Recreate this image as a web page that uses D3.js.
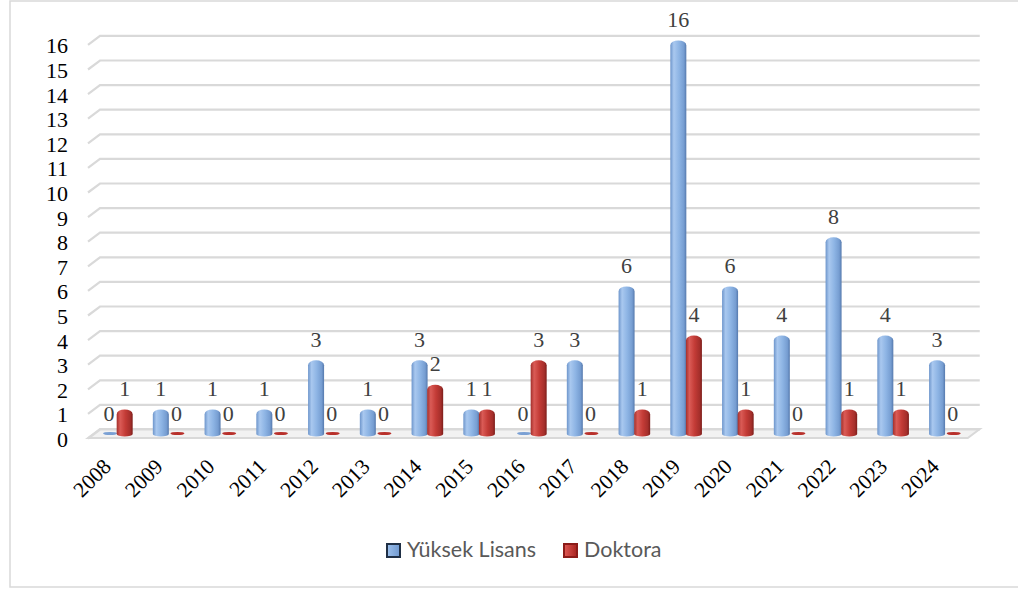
<!DOCTYPE html>
<html>
<head>
<meta charset="utf-8">
<script src="https://cdn.jsdelivr.net/npm/d3@7"></script>
<style>
    body { margin: 0; background: #fff; }
    svg { display: block; }
    .serif { font-family: "Liberation Serif", "Times New Roman", Times, "DejaVu Serif", serif; }
    .sans { font-family: Lato, "Open Sans", sans-serif; }
</style>
</head>
<body>
<div id="container"></div>
<script>
"use strict"

const years = ["2008", "2009", "2010", "2011", "2012", "2013", "2014", "2015", "2016",
    "2017", "2018", "2019", "2020", "2021", "2022", "2023", "2024"];
const yuksekLisans = [0, 1, 1, 1, 3, 1, 3, 1, 0, 3, 6, 16, 6, 4, 8, 4, 3];
const doktora = [1, 0, 0, 0, 0, 0, 2, 1, 3, 0, 1, 4, 1, 0, 1, 1, 0];
const yTicks = d3.range(0, 17);
const seriesNames = ["Yüksek Lisans", "Doktora"];

const width = 1018;
const height = 589;
const floorFront = 434;
const unit = 24.6;
const depthX = 12;
const depthY = 9;
const barWidth = 16;

let svg;
let x;
let y;


function Main()
{
    CreateSVG();
    CreateScales();
    CreateGradients();
    DrawWalls();
    DrawBars();
    DrawAxes();
    DrawLegend();
    document.getElementById("container").append(svg.node());
};


function CreateSVG()
{
    svg = d3.create("svg")
        .attr("width", width)
        .attr("height", height);

    // chart area border
    svg.append("rect")
        .attr("x", 10)
        .attr("y", 1)
        .attr("width", 1020)
        .attr("height", 586)
        .attr("fill", "#fff")
        .attr("stroke", "#d9d9d9")
        .attr("stroke-width", 1.5);
};


function CreateScales()
{
    x = d3.scaleBand()
        .domain(years)
        .range([85.6, 85.6 + 51.75 * years.length]);

    y = d3.scaleLinear()
        .domain([0, 16])
        .range([floorFront, floorFront - 16 * unit]);
};


function AddGradient(defs, id, stops)
{
    const g = defs.append("linearGradient")
        .attr("id", id)
        .attr("x1", "0%").attr("x2", "100%")
        .attr("y1", "0%").attr("y2", "0%");
    stops.forEach(s => g.append("stop").attr("offset", s[0]).attr("stop-color", s[1]));
};


function CreateGradients()
{
    const defs = svg.append("defs");
    AddGradient(defs, "blueGrad", [["0%", "#6d95cb"], ["22%", "#a9c8ef"], ["55%", "#8db4e4"], ["85%", "#769dd1"], ["100%", "#5579ad"]]);
    AddGradient(defs, "redGrad", [["0%", "#a3302c"], ["22%", "#da5b56"], ["55%", "#c33b36"], ["85%", "#a52f2b"], ["100%", "#7c1d1a"]]);
    AddGradient(defs, "blueKey", [["0%", "#9cc0ec"], ["100%", "#6f98d0"]]);
    AddGradient(defs, "redKey", [["0%", "#e05a55"], ["100%", "#a8231f"]]);
};


function DrawWalls()
{
    const left = 88;
    const right = 88 + 51.75 * years.length;

    // floor
    svg.append("path")
        .attr("d", `M${left},${floorFront + 4} L${left + depthX},${floorFront + 4 - depthY} L${right + depthX},${floorFront + 4 - depthY} L${right},${floorFront + 4} Z`)
        .attr("fill", "#f2f2f2")
        .attr("stroke", "#d9d9d9")
        .attr("stroke-width", 2);

    // gridlines on the back wall, with the side wall diagonal
    svg.append("g")
        .selectAll("path")
        .data(yTicks)
        .enter()
        .append("path")
        .attr("d", d => {
            const gy = y(d) - 4.5;
            return `M${left},${gy + depthY} L${left + depthX},${gy} L${right + depthX},${gy}`;
        })
        .attr("fill", "none")
        .attr("stroke", "#d9d9d9")
        .attr("stroke-width", 2.2);
};


function CylinderPath(cx, v)
{
    const x0 = cx - barWidth / 2;
    const x1 = cx + barWidth / 2;
    const bottom = y(0);
    const top = y(v);
    const ry = 5;
    return `M${x0},${bottom} L${x0},${top + ry} A${barWidth / 2},${ry} 0 0 1 ${x1},${top + ry} L${x1},${bottom} A${barWidth / 2},2.5 0 0 1 ${x0},${bottom} Z`;
};


function DrawBars()
{
    const series = [
        { values: yuksekLisans, offset: -2.4, grad: "url(#blueGrad)", flat: "#7aa0d4" },
        { values: doktora, offset: 13.2, grad: "url(#redGrad)", flat: "#b8302b" }
    ];

    series.forEach(s => {
        const g = svg.append("g");
        const items = years.map((yr, i) => ({ year: yr, value: s.values[i] }));

        g.selectAll(".bar")
            .data(items.filter(d => d.value > 0))
            .enter()
            .append("path")
            .attr("class", "bar")
            .attr("d", d => CylinderPath(x(d.year) + x.bandwidth() / 2 + s.offset, d.value))
            .attr("fill", s.grad);

        g.selectAll(".flat")
            .data(items.filter(d => d.value === 0))
            .enter()
            .append("ellipse")
            .attr("class", "flat")
            .attr("cx", d => x(d.year) + x.bandwidth() / 2 + s.offset + 1)
            .attr("cy", y(0) - 0.5)
            .attr("rx", 7)
            .attr("ry", 1.6)
            .attr("fill", s.flat);

        g.selectAll(".value")
            .data(items)
            .enter()
            .append("text")
            .attr("class", "value serif")
            .attr("x", d => x(d.year) + x.bandwidth() / 2 + s.offset)
            .attr("y", d => y(d.value) - 13.5)
            .attr("text-anchor", "middle")
            .attr("font-size", 22)
            .attr("fill", "#404040")
            .text(d => d.value);
    });
};


function DrawAxes()
{
    // value axis labels
    svg.append("g")
        .selectAll("text")
        .data(yTicks)
        .enter()
        .append("text")
        .attr("class", "serif")
        .attr("x", 68)
        .attr("y", d => y(d) + 13)
        .attr("text-anchor", "end")
        .attr("font-size", 22)
        .attr("fill", "#000")
        .text(d => d);

    // category labels, rotated
    svg.append("g")
        .selectAll("text")
        .data(years)
        .enter()
        .append("text")
        .attr("class", "serif")
        .attr("transform", d => `translate(${x(d) + x.bandwidth() / 2 + 1},468) rotate(-45)`)
        .attr("text-anchor", "end")
        .attr("font-size", 21.5)
        .attr("fill", "#000")
        .text(d => d);
};


function DrawLegend()
{
    const legend = svg.append("g");
    const items = [
        { name: seriesNames[0], x: 386, fill: "url(#blueKey)", stroke: "#1f2f45" },
        { name: seriesNames[1], x: 563, fill: "url(#redKey)", stroke: "#8c1c19" }
    ];

    items.forEach(it => {
        legend.append("rect")
            .attr("x", it.x + 1)
            .attr("y", 544)
            .attr("width", 13)
            .attr("height", 13)
            .attr("fill", it.fill)
            .attr("stroke", it.stroke)
            .attr("stroke-width", 2);

        legend.append("text")
            .attr("class", "sans")
            .attr("x", it.x + 21)
            .attr("y", 557)
            .attr("font-size", 21.5)
            .attr("fill", "#595959")
            .text(it.name);
    });
};


Main();
</script>
</body>
</html>
